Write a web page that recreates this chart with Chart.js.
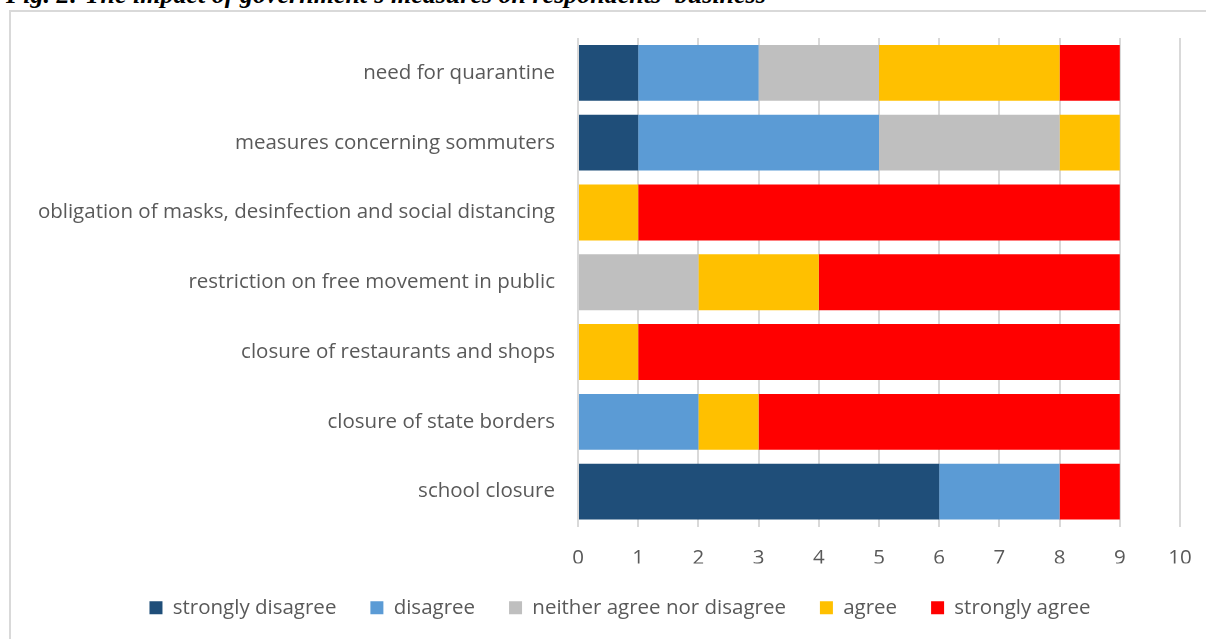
<!DOCTYPE html>
<html>
<head>
<meta charset="utf-8">
<script src="https://cdn.jsdelivr.net/npm/chart.js@4/dist/chart.umd.min.js"></script>
<style>
  html, body { margin: 0; padding: 0; background: #fff; overflow: hidden; }
  body { width: 1206px; height: 639px; position: relative; }
  #title { position: absolute; left: 6px; top: -18px; font-family: "Liberation Serif", serif; font-weight: bold; font-style: italic; font-size: 26px; line-height: 26px; color: #000; white-space: nowrap; }
  #frame { position: absolute; left: 9px; top: 10px; width: 1220px; height: 700px; border: 2px solid #d9d9d9; box-sizing: border-box; }
  #wrap { position: absolute; left: 0; top: 0; width: 1206px; height: 639px; }
</style>
</head>
<body>
<div id="title">Fig. 2: The impact of government's measures on respondents' business</div>
<div id="frame"></div>
<div id="wrap"><canvas id="c" width="1206" height="639"></canvas></div>
<script>
const categories = [
  "need for quarantine",
  "measures concerning sommuters",
  "obligation of masks, desinfection and social distancing",
  "restriction on free movement in public",
  "closure of restaurants and shops",
  "closure of state borders",
  "school closure"
];
const seriesNames = ["strongly disagree", "disagree", "neither agree nor disagree", "agree", "strongly agree"];
const stronglyDisagree = [1, 1, 0, 0, 0, 0, 6];
const disagree         = [2, 4, 0, 0, 0, 2, 2];
const neither          = [2, 3, 0, 2, 0, 0, 0];
const agree            = [3, 1, 1, 2, 1, 1, 0];
const stronglyAgree    = [1, 0, 8, 5, 8, 6, 1];
const xTicks = [0, 1, 2, 3, 4, 5, 6, 7, 8, 9, 10];

const colors = ["#1F4E79", "#5B9BD5", "#BFBFBF", "#FFC000", "#FF0000"];
const values = [stronglyDisagree, disagree, neither, agree, stronglyAgree];

const FONT = "'Open Sans', Lato, sans-serif";

const shiftLegend = {
  id: 'shiftLegend',
  afterLayout(chart) {
    const l = chart.legend;
    if (l) { l.left += 30; l.right += 30; }
  }
};

new Chart(document.getElementById('c'), {
  type: 'bar',
  data: {
    labels: categories,
    datasets: seriesNames.map((n, i) => ({
      label: n,
      data: values[i],
      backgroundColor: colors[i],
      borderWidth: 0,
      barPercentage: 0.8,
      categoryPercentage: 1.0
    }))
  },
  plugins: [shiftLegend],
  options: {
    indexAxis: 'y',
    responsive: false,
    animation: false,
    layout: { padding: { top: 38, right: 26, bottom: 11, left: 0 } },
    plugins: {
      legend: {
        position: 'bottom',
        labels: {
          font: { family: FONT, size: 20.5 },
          color: '#595959',
          boxWidth: 13,
          boxHeight: 13,
          padding: 34
        }
      },
      tooltip: { enabled: false }
    },
    scales: {
      x: {
        stacked: true,
        min: 0, max: 10,
        afterBuildTicks: (s) => { s.ticks = xTicks.map(v => ({ value: v })); },
        grid: { color: '#d9d9d9', lineWidth: 2, drawTicks: false },
        border: { display: false },
        ticks: { font: { family: FONT, size: 20.5 }, color: '#595959', padding: 19 },
        afterFit: (s) => { s.height = 37; s.paddingRight = 0; s.paddingLeft = 0; }
      },
      y: {
        stacked: true,
        grid: { display: false, drawTicks: false },
        border: { display: false },
        ticks: { font: { family: FONT, size: 20.5 }, color: '#595959', padding: 23 },
        afterFit: (s) => { s.width = 578; }
      }
    }
  }
});
</script>
</body>
</html>
